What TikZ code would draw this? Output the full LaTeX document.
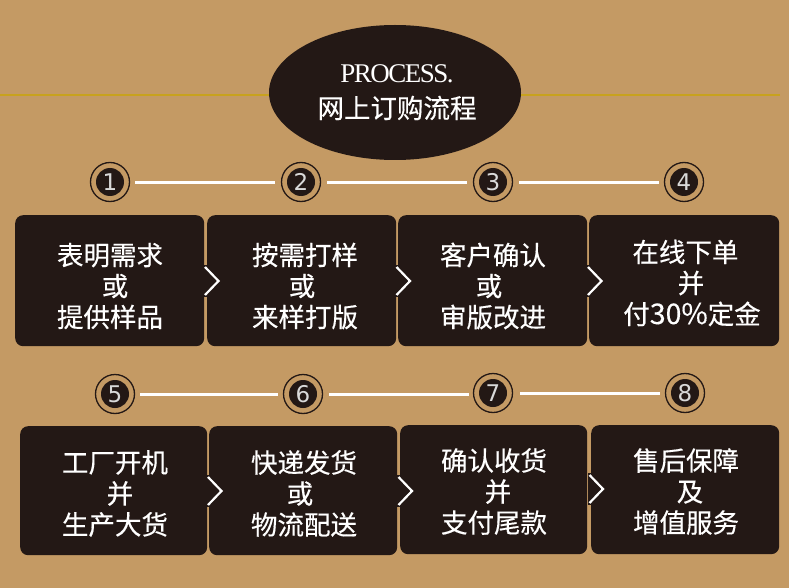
\documentclass[tikz,border=0pt]{standalone}
\usepackage{fontspec}
\usetikzlibrary{shapes.geometric}
\setmainfont{Noto Sans CJK SC}[BoldFont=*,BoldFeatures={FakeBold=0.35}]
\newfontfamily\latinserif{Liberation Serif}[LetterSpace=-5.5]
\newfontfamily\latinsans{DejaVu Sans}
\definecolor{bgtan}{HTML}{C49A64}
\definecolor{darkbox}{HTML}{231815}
\definecolor{goldline}{HTML}{C8A21E}
\tikzset{
  x=1pt,y=-1pt,
  stepbox/.style={draw=none,fill=darkbox,rounded corners=8pt,anchor=north west,inner sep=0pt},
  steptext/.style={inner sep=0pt,text=white,align=center,font=\bfseries\fontsize{26.5}{31}\selectfont},
  badge/.style={circle,draw=darkbox,line width=1.3pt,fill=bgtan,minimum size=39pt,inner sep=0pt},
  badgein/.style={circle,fill=darkbox,minimum size=28pt,inner sep=0pt,text=white!85!black,font=\latinsans\fontsize{23}{23}\selectfont},
  link/.style={draw=white,line width=3pt},
  chev/.style={draw=white,line width=2.2pt,miter limit=10},
  gapfill/.style={fill=darkbox},
  headline/.style={draw=goldline,line width=1.5pt}
}
\newcommand{\stepnode}[8]{\node[stepbox,minimum width=#4pt,minimum height=#5pt] (#1) at (#2,#3) {};
  \node[steptext] (#1t) at (#6,#7) {#8};}
\newcommand{\numnode}[4]{\node[badge] (#1) at (#2,#3) {}; \node[badgein] (#1i) at (#2,#3) {#4};}
\newcommand{\rs}[2]{\mbox{\hspace*{#1pt}#2}}
\newcommand{\ls}[2]{\mbox{#2\hspace*{#1pt}}}
\newcommand{\chevron}[2]{\fill[gapfill] (#1-2,#2-16) rectangle (#1+4,#2+16);
  \draw[chev] (#1,#2-14) -- (#1+13.5,#2) -- (#1,#2+14);}
\begin{document}
\begin{tikzpicture}
\useasboundingbox (0,0) rectangle (789,588);
\fill[bgtan] (0,0) rectangle (789,588);
\coordinate (hl) at (0,95);
\coordinate (hr) at (780,95);
\draw[headline] (hl) -- (hr);
\node[ellipse,fill=darkbox,minimum width=252pt,minimum height=135pt,inner sep=0pt] (head) at (395,92.5) {};
\node[text=white,font=\latinserif\fontsize{27}{27}\selectfont,inner sep=0pt] (procs) at (397,74) {PROCESS.};
\node[text=white,font=\bfseries\fontsize{26.5}{26.5}\selectfont,inner sep=0pt] (title) at (397,108) {网上订购流程};

\numnode{n1}{110}{182}{1}
\numnode{n2}{301}{182}{2}
\numnode{n3}{493}{182}{3}
\numnode{n4}{684}{182}{4}
\numnode{n5}{115}{394}{5}
\numnode{n6}{303}{394}{6}
\numnode{n7}{493}{393}{7}
\numnode{n8}{685}{393}{8}
\draw[link,shorten >=6pt,shorten <=5pt,transform canvas={yshift=-1pt}] (n1) -- (n2);
\draw[link,shorten >=6pt,shorten <=6pt,transform canvas={yshift=-1pt}] (n2) -- (n3);
\draw[link,shorten >=5pt,shorten <=6pt,transform canvas={yshift=-1pt}] (n3) -- (n4);
\draw[link,shorten >=5pt,shorten <=5pt] (n5) -- (n6);
\draw[link,shorten >=4pt,shorten <=6pt] (n6) -- (n6 -| n7.west);
\draw[link,shorten >=5pt,shorten <=7pt] (n7) -- (n8);

\stepnode{b1}{15}{215}{189}{131}{110}{286}{表明需求\\\rs{10}{或}\\提供样品}
\stepnode{b2}{207}{215}{189}{131}{305}{286}{按需打样\\\ls{6}{或}\\来样打版}
\stepnode{b3}{398}{215}{189}{131}{493}{286}{客户确认\\\ls{8}{或}\\审版改进}
\stepnode{b4}{589}{215}{190}{131}{685.5}{283}{在线下单\\\rs{11}{并}\\\rs{13}{付{\fontsize{28.5}{31}\selectfont 30\%}定金}}
\stepnode{b5}{20}{426}{187}{129}{115}{493.5}{工厂开机\\\rs{10}{并}\\生产大货}
\stepnode{b6}{209}{426}{188}{129}{304}{493.5}{快递发货\\\ls{8}{或}\\物流配送}
\stepnode{b7}{400}{425}{187}{129}{494}{491.5}{确认收货\\\rs{8}{并}\\支付尾款}
\stepnode{b8}{591}{425}{188}{129}{686}{491.5}{售后保障\\\rs{8}{及}\\增值服务}

\chevron{205}{281}
\chevron{396.5}{281}
\chevron{588}{281}
\chevron{208}{491}
\chevron{398.5}{491}
\chevron{589.5}{489}
\end{tikzpicture}
\end{document}
